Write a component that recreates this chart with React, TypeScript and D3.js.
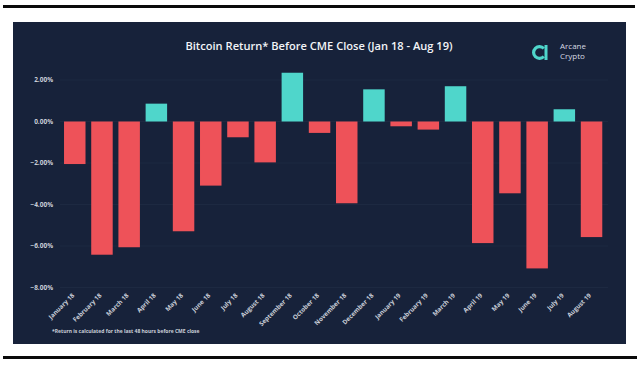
import { useEffect, useRef } from "react";
import * as d3 from "d3";

const months = [
  "January 18", "February 18", "March 18", "April 18", "May 18", "June 18",
  "July 18", "August 18", "September 18", "October 18", "November 18", "December 18",
  "January 19", "February 19", "March 19", "April 19", "May 19", "June 19",
  "July 19", "August 19"
];
const returns = [
  -2.05, -6.42, -6.06, 0.86, -5.29, -3.09, -0.76, -1.97, 2.35, -0.55,
  -3.94, 1.55, -0.23, -0.39, 1.7, -5.86, -3.46, -7.08, 0.59, -5.57
];
const yTicks = [2, 0, -2, -4, -6, -8];

export default function App() {
  const ref = useRef<SVGSVGElement>(null);

  useEffect(() => {
    const svg = d3.select(ref.current);
    svg.selectAll("*").remove();

    const width = 640;
    const height = 367;
    svg.attr("width", width).attr("height", height);

    svg.append("rect").attr("width", width).attr("height", height).attr("fill", "#fff");

    // black rules top and bottom
    svg.append("rect").attr("x", 3).attr("y", 5).attr("width", 632).attr("height", 3).attr("fill", "#0a0a0a");
    svg.append("rect").attr("x", 3).attr("y", 356).attr("width", 634).attr("height", 3).attr("fill", "#0a0a0a");

    // dark panel
    svg.append("rect")
      .attr("x", 13).attr("y", 22).attr("width", 613).attr("height", 322)
      .attr("fill", "#17223a");

    const x = d3.scaleBand()
      .domain(months)
      .range([61.3, 605])
      .paddingInner(0.21)
      .paddingOuter(0.1);

    const y = d3.scaleLinear()
      .domain([-8, 2])
      .range([287.5, 80]);

    const font = "'Open Sans', 'Noto Sans', sans-serif";

    // faint gridlines
    yTicks.forEach(t => {
      svg.append("line")
        .attr("x1", 60).attr("x2", 608)
        .attr("y1", y(t)).attr("y2", y(t))
        .attr("stroke", "#1d2941")
        .attr("stroke-width", 1);

      svg.append("text")
        .attr("x", 53)
        .attr("y", y(t))
        .attr("dy", "0.35em")
        .attr("text-anchor", "end")
        .attr("font-family", font)
        .attr("font-size", "6.5px")
        .attr("font-weight", 700)
        .attr("fill", "#c9ced8")
        .text(d3.format(".2f")(t) + "%");
    });

    months.forEach((m, i) => {
      const v = returns[i];
      svg.append("rect")
        .attr("x", x(m)!)
        .attr("y", y(Math.max(0, v)))
        .attr("width", x.bandwidth())
        .attr("height", Math.abs(y(v) - y(0)))
        .attr("fill", v >= 0 ? "#4fd6cb" : "#ee5259");

      const cx = x(m)! + x.bandwidth() / 2;
      svg.append("text")
        .attr("transform", `translate(${cx},${296}) rotate(-45)`)
        .attr("text-anchor", "end")
        .attr("font-family", font)
        .attr("font-size", "6.3px")
        .attr("font-weight", 700)
        .attr("fill", "#c9ced8")
        .text(m);
    });

    // title
    svg.append("text")
      .attr("x", 319)
      .attr("y", 50)
      .attr("text-anchor", "middle")
      .attr("font-family", font)
      .attr("font-size", "11.1px")
      .attr("font-weight", 600)
      .attr("fill", "#f2f4f7")
      .text("Bitcoin Return* Before CME Close (Jan 18 - Aug 19)");

    // logo
    const logo = svg.append("g").attr("transform", "translate(539.5,52.5)");
    logo.append("path")
      .attr("d", d3.arc()({
        innerRadius: 4.3, outerRadius: 7.5,
        startAngle: Math.PI / 2 + 0.75, endAngle: Math.PI * 2.5 - 0.75
      }) as string)
      .attr("fill", "#4fd6cb");
    logo.append("rect").attr("x", 5).attr("y", -7.5).attr("width", 3).attr("height", 15).attr("fill", "#4fd6cb");

    svg.append("text")
      .attr("x", 560).attr("y", 49)
      .attr("font-family", font).attr("font-size", "8px")
      .attr("fill", "#d6dae2")
      .text("Arcane");
    svg.append("text")
      .attr("x", 560).attr("y", 58.5)
      .attr("font-family", font).attr("font-size", "8px")
      .attr("fill", "#d6dae2")
      .text("Crypto");

    // footnote
    svg.append("text")
      .attr("x", 52).attr("y", 333)
      .attr("font-family", font).attr("font-size", "5px")
      .attr("font-weight", 700)
      .attr("fill", "#c9ced8")
      .text("*Return is calculated for the last 48 hours before CME close");
  }, []);

  return <svg ref={ref} style={{ position: "absolute", left: 0, top: 0 }}></svg>;
}
